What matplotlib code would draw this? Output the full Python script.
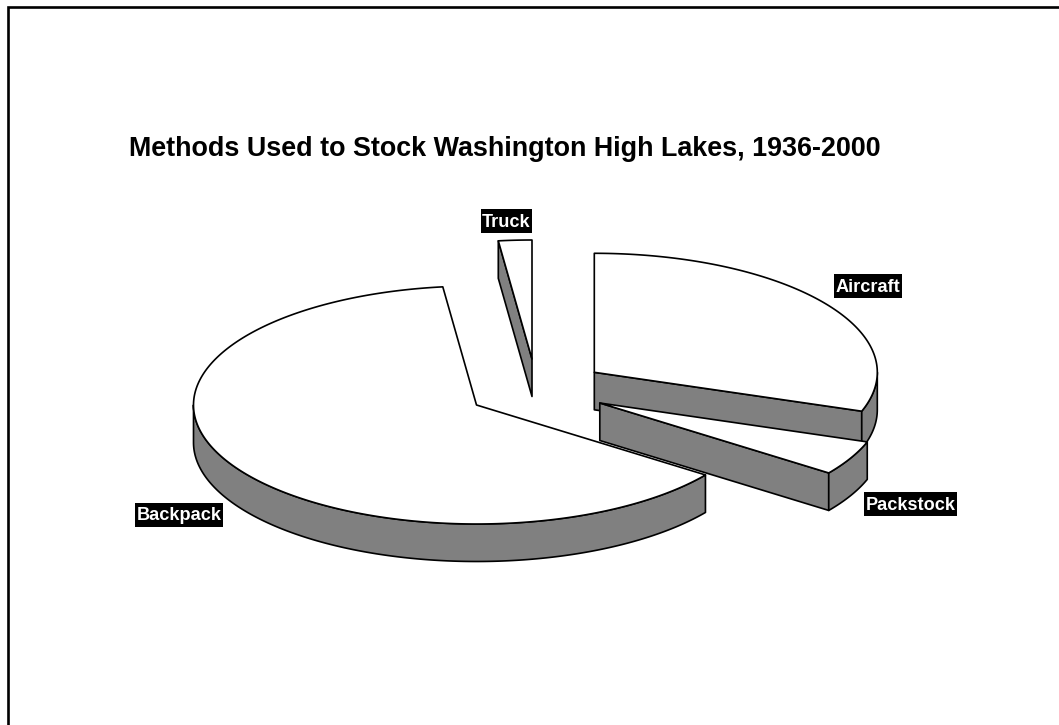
import numpy as np
import matplotlib
matplotlib.use("Agg")
import matplotlib.pyplot as plt
from matplotlib.patches import Polygon, Rectangle

title = "Methods Used to Stock Washington High Lakes, 1936-2000"
categories = ["Aircraft", "Packstock", "Backpack", "Truck"]
shares = [30.3, 4.7, 63.1, 1.9]

# layout (pixel space of the figure)
apex_x = [594.3, 599.8, 476.5, 532.0]
apex_y = [372.3, 403.0, 405.0, 359.0]
label_x = [868, 910.5, 179, 506.5]
label_y = [286, 504, 515, 221]
label_w = [68, 93, 88, 51]
label_h = 24
draw_order = [2, 3, 0, 1]
RX, RY, DEPTH = 283.0, 119.0, 37.5
GREY = "#808080"
LW = 1.2

plt.rcParams["font.family"] = ["Liberation Sans", "DejaVu Sans"]
fig = plt.figure(figsize=(10.59, 7.25), dpi=100)
ax = fig.add_axes([0, 0, 1, 1])
ax.set_xlim(0, 1059)
ax.set_ylim(725, 0)
ax.axis("off")

# slide frame: open at right and bottom of the picture
ax.plot([8, 8, 1059], [725, 7, 7], color="black", lw=1.9, solid_joinstyle="miter")


def rim(cx, cy, t0, t1):
    t = np.radians(np.linspace(t0, t1, max(int(abs(t1 - t0) * 2), 2)))
    return cx + RX * np.sin(t), cy - RY * np.cos(t)


def face(xs, ys, color, z):
    ax.add_patch(Polygon(np.column_stack([xs, ys]), closed=True, facecolor=color,
                         edgecolor="black", lw=LW, joinstyle="round", zorder=z))


edges = np.concatenate([[0], np.cumsum(shares)]) / sum(shares) * 360
z = 2
for i in draw_order:
    a0, a1 = edges[i], edges[i + 1]
    cx, cy = apex_x[i], apex_y[i]
    # radial side faces that turn towards the viewer
    for a, bearing in ((a0, a0 - 90), (a1, a1 + 90)):
        if np.cos(np.radians(bearing)) < -1e-6:
            ex, ey = rim(cx, cy, a, a)
            px, py = ex[0], ey[0]
            face([cx, px, px, cx], [cy, py, py + DEPTH, cy + DEPTH], GREY, z)
            z += 1
    # outer wall: only the part of the rim in front
    w0, w1 = max(a0, 90), min(a1, 270)
    if w1 > w0:
        wx, wy = rim(cx, cy, w0, w1)
        face(np.r_[wx, wx[::-1]], np.r_[wy, wy[::-1] + DEPTH], GREY, z)
        z += 1
    # top face
    tx, ty = rim(cx, cy, a0, a1)
    face(np.r_[cx, tx], np.r_[cy, ty], "white", z)
    z += 1

ax.text(505, 149, title, ha="center", va="center", fontsize=19.35,
        fontweight="bold", color="black", zorder=50)
for name, x, y, w in zip(categories, label_x, label_y, label_w):
    ax.add_patch(Rectangle((x - w / 2, y - label_h / 2), w, label_h, facecolor="black",
                           edgecolor="none", zorder=49))
    ax.text(x, y + 1, name, ha="center", va="center", fontsize=13.1, fontweight="bold",
            color="white", zorder=50)

fig.savefig("out.png", dpi=100, facecolor="white")
